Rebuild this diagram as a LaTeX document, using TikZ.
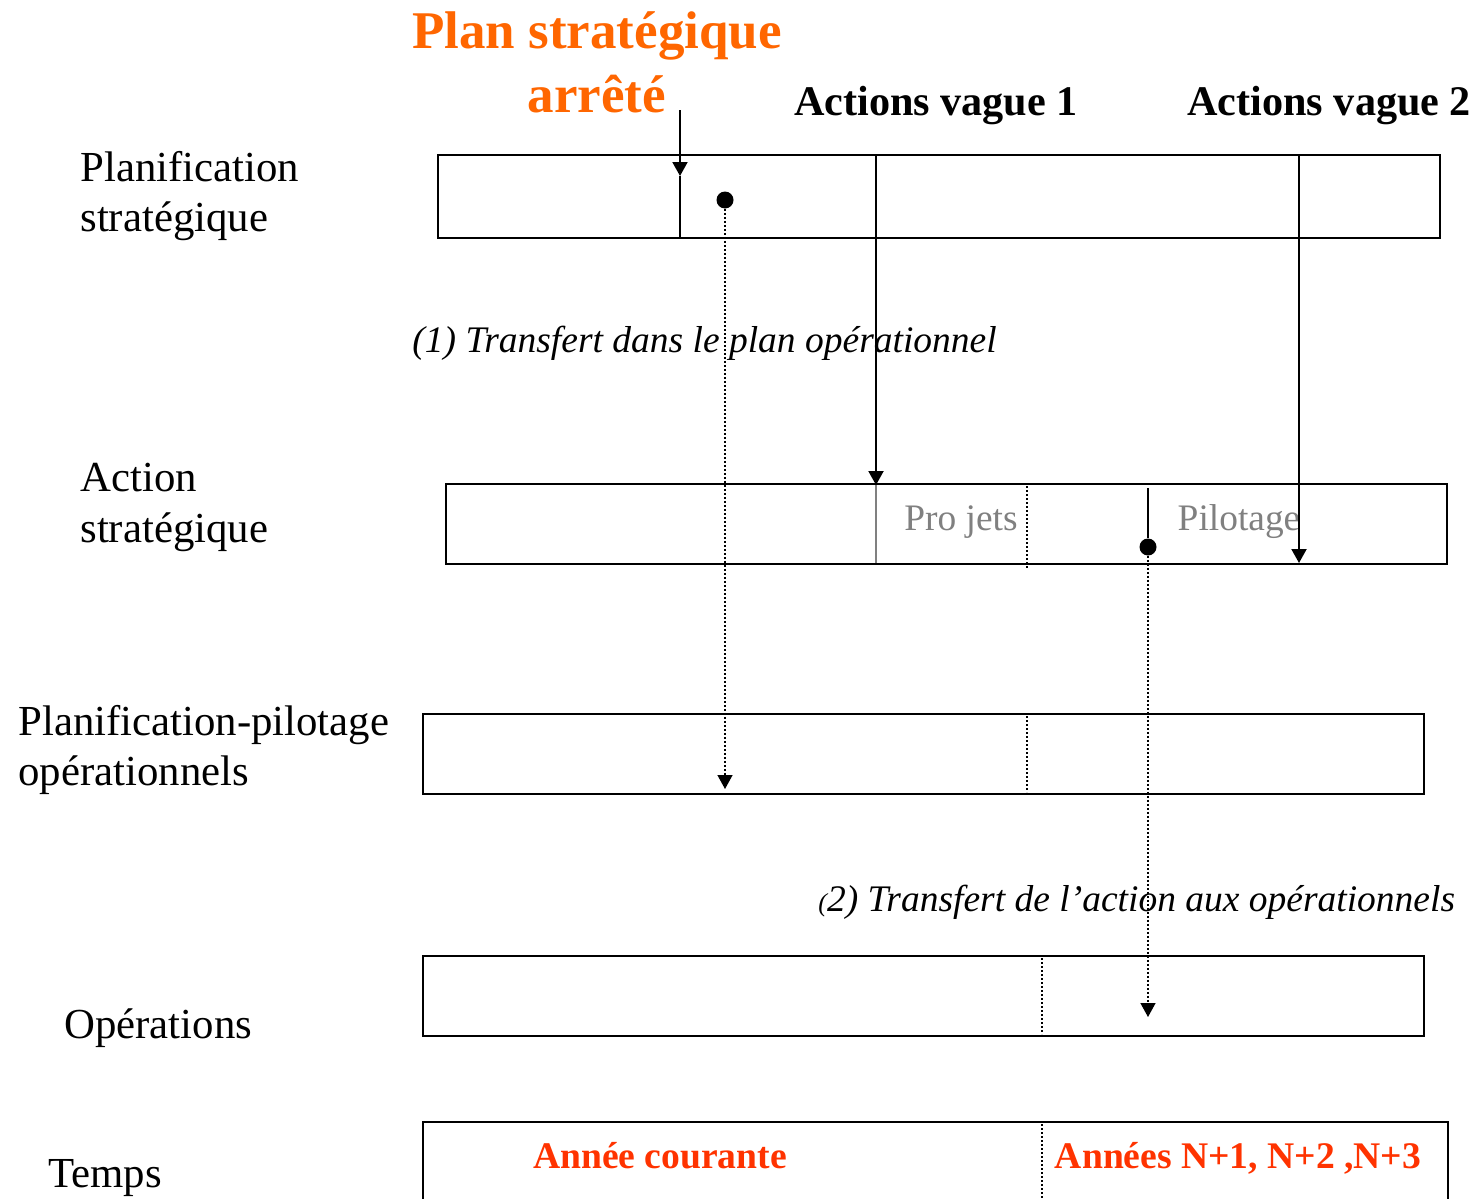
\documentclass[tikz,border=0pt]{standalone}
\usepackage{fontspec}
\setmainfont{Liberation Serif}
\usetikzlibrary{arrows.meta}
\definecolor{planorange}{RGB}{255,102,0}
\definecolor{yearred}{RGB}{255,51,0}
\definecolor{softgray}{RGB}{128,128,128}
\begin{document}
\begin{tikzpicture}[x=0.5pt,y=-0.5pt,
  band/.style={draw, line width=1pt},
  rowlabel/.style={anchor=base west, inner sep=0, font=\fontsize{21.4}{25}\selectfont},
  wavelabel/.style={anchor=base, inner sep=0, font=\bfseries\fontsize{21.1}{25}\selectfont},
  titlelabel/.style={anchor=base, inner sep=0, text=planorange, font=\bfseries\fontsize{26.5}{32}\selectfont},
  steplabel/.style={anchor=base west, inner sep=0, font=\itshape\fontsize{18.75}{22}\selectfont},
  phaselabel/.style={anchor=base, inner sep=0, text=softgray, font=\fontsize{18.7}{22}\selectfont},
  yearlabel/.style={anchor=base, inner sep=0, text=yearred, font=\bfseries\fontsize{18.8}{22}\selectfont},
  tip/.style={-{Triangle[length=7pt,width=7.5pt]}},
  solidlink/.style={line width=1pt},
  dotlink/.style={line width=0.7pt, dash pattern=on 0.8pt off 1.2pt},
  divider/.style={line width=0.6pt, dash pattern=on 0.8pt off 1.2pt},
  dot/.style={circle, fill, inner sep=0, minimum size=8.5pt}]
\useasboundingbox (0,0) rectangle (1479,1199);

% --- horizontal bands ---
\draw[band] (438,155) rectangle (1440,238);
\draw[band] (446,484) rectangle (1447,564);
\draw[band] (423,714) rectangle (1424,794);
\draw[band] (423,956) rectangle (1424,1036);
\draw[band] (423,1210) -- (423,1122) -- (1448,1122) -- (1448,1210);

% --- year dividers ---
\draw[divider] (1027,486) -- (1027,568);
\draw[divider] (1027,716) -- (1027,792);
\draw[divider] (1042,958) -- (1042,1034);
\draw[divider] (1042,1124) -- (1042,1199);

% --- row labels ---
\node[rowlabel] (plan1) at (80,181) {Planification};
\node[rowlabel] (plan2) at (80,231) {stratégique};
\node[rowlabel] (act1) at (80,491) {Action};
\node[rowlabel] (act2) at (80,542) {stratégique};
\node[rowlabel] (pp1) at (18,735) {Planification-pilotage};
\node[rowlabel] (pp2) at (18,785) {opérationnels};
\node[rowlabel] (ops) at (64,1038) {Opérations};
\node[rowlabel] (time) at (48,1187) {Temps};

% --- headings ---
\node[titlelabel] (title1) at (597,48) {Plan stratégique};
\node[titlelabel] (title2) at (597,112) {arrêté};
\node[wavelabel] (wave1) at (936,115) {Actions vague 1};
\node[wavelabel, anchor=base west] (wave2) at (1187,115) {Actions vague 2};

% --- step captions ---
\node[steplabel] (step1) at (412,352) {(1) Transfert dans le plan opérationnel};
\node[steplabel] (step2) at (818,911) {{\fontsize{13}{15}\selectfont(}2) Transfert de l’action aux opérationnels};

% --- phases of the strategic action ---
\node[phaselabel] (projets) at (961,530) {Pro jets};
\node[phaselabel] (pilotage) at (1239,530) {Pilotage};

% --- time axis ---
\node[yearlabel] (cur) at (660,1168) {Année courante};
\node[yearlabel] (next) at (1238,1168) {Années N+1, N+2 ,N+3};

% --- connector end points ---
\coordinate (a0) at (680,110);
\coordinate (a1) at (680,176);
\coordinate (a2) at (680,238);
\node[dot] (d1) at (725,200) {};
\coordinate (d1end) at (725,789);
\coordinate (w1top) at (876,155);
\coordinate (w1hit) at (876,485);
\coordinate (w1bot) at (876,563);
\coordinate (w2top) at (1299,155);
\coordinate (w2hit) at (1299,563);
\coordinate (p0) at (1148,488);
\node[dot] (d2) at (1148,547) {};
\coordinate (d2end) at (1148,1017);

% --- connectors ---
\draw[solidlink, tip] (a0) -- (a1);
\draw[solidlink] (a1) -- (a2);
\draw[dotlink, tip] (d1) -- (d1end);
\draw[solidlink, tip] (w1top) -- (w1hit);
\draw[line width=1pt, draw=softgray] (w1hit) -- (w1bot);
\draw[solidlink, tip] (w2top) -- (w2hit);
\draw[solidlink] (p0) -- (d2);
\draw[dotlink, tip] (d2) -- (d2end);
\end{tikzpicture}
\end{document}
